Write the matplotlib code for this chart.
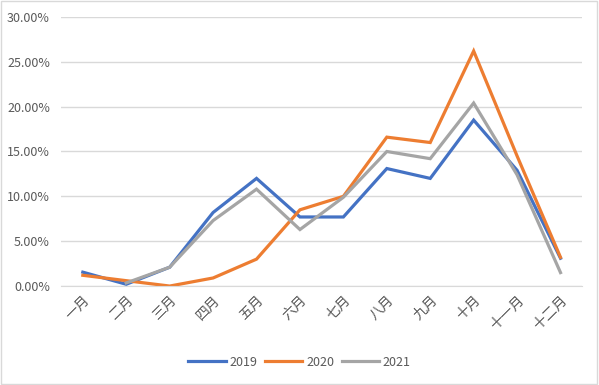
import matplotlib.pyplot as plt
import numpy as np
from matplotlib.patches import Rectangle
from matplotlib.ticker import FuncFormatter, MultipleLocator

plt.rcParams["font.family"] = ["Noto Sans CJK SC", "DejaVu Sans"]

months = ["一月", "二月", "三月", "四月", "五月", "六月",
          "七月", "八月", "九月", "十月", "十一月", "十二月"]
y2019 = [1.55, 0.2, 2.1, 8.2, 12.0, 7.7, 7.7, 13.1, 12.0, 18.5, 12.9, 3.1]
y2020 = [1.2, 0.6, 0.0, 0.9, 3.0, 8.5, 10.0, 16.6, 16.0, 26.2, 14.5, 3.2]
y2021 = [np.nan, 0.35, 2.1, 7.3, 10.8, 6.3, 9.9, 15.0, 14.2, 20.4, 12.4, 1.5]

series = [("2019", y2019, "#4472C4"),
          ("2020", y2020, "#ED7D31"),
          ("2021", y2021, "#A5A5A5")]

fig = plt.figure(figsize=(5.99, 3.85), dpi=100)
ax = fig.add_axes([0.102, 0.257, 0.870, 0.699])

x = np.arange(len(months))
for name, vals, color in series:
    ax.plot(x, np.array(vals) / 100, color=color, lw=2.3, label=name,
            solid_joinstyle="miter")

ax.set_xlim(-0.5, len(months) - 0.5)
ax.set_ylim(0, 0.30)
ax.yaxis.set_major_locator(MultipleLocator(0.05))
ax.yaxis.set_major_formatter(FuncFormatter(lambda v, _: f"{v * 100:.2f}%"))
ax.grid(axis="y", color="#D9D9D9", lw=1)
ax.set_axisbelow(True)
for side in ("top", "right", "left"):
    ax.spines[side].set_visible(False)
ax.spines["bottom"].set_color("#D9D9D9")
ax.tick_params(axis="both", length=0, colors="#595959", labelsize=9)
ax.tick_params(axis="y", pad=8)
ax.tick_params(axis="x", labelsize=10, pad=5)
ax.set_xticks(x)
ax.set_xticklabels(months, rotation=45, ha="right", va="top",
                   rotation_mode="anchor")

ax.legend(loc="center", bbox_to_anchor=(0.5, 23 / 385), bbox_transform=fig.transFigure,
          ncol=3, frameon=False, fontsize=9, handlelength=3.0, columnspacing=0.6,
          handletextpad=0.3, labelcolor="#595959")

fig.patches.append(Rectangle((0.002, 0.003), 0.995, 0.994, transform=fig.transFigure,
                             fill=False, edgecolor="#D9D9D9", lw=1))

fig.savefig("out.png", dpi=100)
